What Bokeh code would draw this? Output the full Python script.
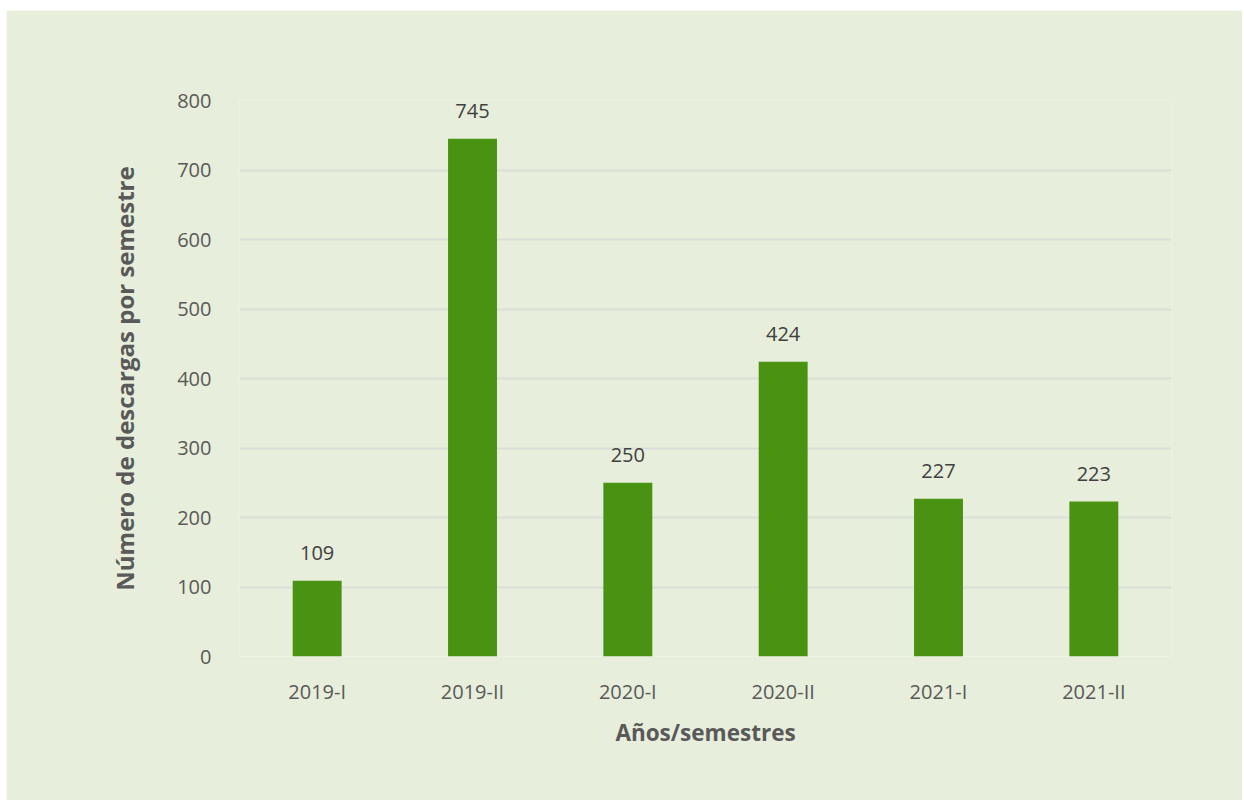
from bokeh.plotting import figure
from bokeh.models import ColumnDataSource, LabelSet, Range1d, FixedTicker
from bokeh.core.properties import value
from bokeh.embed import file_html
from bokeh.resources import INLINE

categories = ["2019-I", "2019-II", "2020-I", "2020-II", "2021-I", "2021-II"]
values = [109, 745, 250, 424, 227, 223]
y_ticks = [0, 100, 200, 300, 400, 500, 600, 700, 800]

BG = "#E7EEDB"
FONT = "Open Sans"

src = ColumnDataSource(dict(cat=categories, val=values, lbl=[str(v) for v in values]))

p = figure(x_range=categories, y_range=Range1d(0, 800), width=1236, height=790,
           output_backend="svg", toolbar_location=None,
           min_border_left=233, min_border_right=71, min_border_top=90, min_border_bottom=144)
p.margin = (10, 0, 0, 6)
p.background_fill_color = BG
p.border_fill_color = BG
p.outline_line_color = None

p.vbar(x="cat", top="val", width=0.315, source=src, color="#4A9212", line_color=None)

labels = LabelSet(x="cat", y="val", text="lbl", source=src, text_align="center",
                  text_baseline="middle", y_offset=28, text_font=value(FONT),
                  text_font_size="20px", text_color="#404040")
p.add_layout(labels)

p.xgrid.grid_line_color = None
p.ygrid.grid_line_color = "#DADDD8"
p.ygrid.grid_line_width = 2
p.yaxis.ticker = FixedTicker(ticks=y_ticks)

for ax in (p.xaxis, p.yaxis):
    ax.axis_line_color = None
    ax.major_tick_line_color = None
    ax.minor_tick_line_color = None
    ax.major_label_text_font = FONT
    ax.major_label_text_font_size = "20px"
    ax.major_label_text_color = "#595959"
    ax.axis_label_text_font = FONT
    ax.axis_label_text_font_style = "bold"
    ax.axis_label_text_color = "#595959"

p.xaxis.axis_label = "Años/semestres"
p.yaxis.axis_label = "Número de descargas por semestre"
p.xaxis.axis_label_text_font_size = "22.5px"
p.yaxis.axis_label_text_font_size = "24px"
p.xaxis.major_label_standoff = 15
p.xaxis.axis_label_standoff = 9
p.yaxis.major_label_standoff = 22
p.yaxis.axis_label_standoff = 33

open("out.html", "w").write(file_html(p, INLINE))
